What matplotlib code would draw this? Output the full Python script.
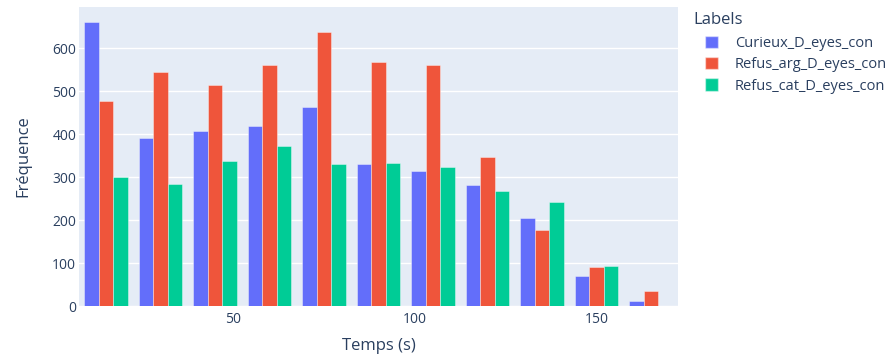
import numpy as np
import matplotlib
matplotlib.use("Agg")
import matplotlib.pyplot as plt
from matplotlib.patches import Patch

# Data
bin_start = 7.5
bin_width = 15
series_names = ["Curieux_D_eyes_con", "Refus_arg_D_eyes_con", "Refus_cat_D_eyes_con"]
curieux = [660, 390, 408, 418, 463, 331, 315, 281, 205, 70, 11]
refus_arg = [477, 544, 514, 562, 637, 569, 560, 348, 178, 90, 34]
refus_cat = [300, 285, 338, 372, 330, 332, 323, 268, 241, 92, 0]
colors = ["#636EFA", "#EF553B", "#00CC96"]
x_ticks = [50, 100, 150]
y_ticks = [0, 100, 200, 300, 400, 500, 600]

text_color = "#2a3f5f"
plt.rcParams["font.family"] = ["Open Sans", "DejaVu Sans"]

W, H = 895, 360
fig = plt.figure(figsize=(W / 100, H / 100), dpi=100)
ax = fig.add_axes([79 / W, 1 - 306 / H, (678 - 79) / W, (306 - 7) / H])
ax.set_facecolor("#E5ECF6")

all_series = [curieux, refus_arg, refus_cat]
n_bins = len(curieux)
edges = bin_start + bin_width * np.arange(n_bins)
bargap = 0.2
group_w = bin_width * (1 - bargap)
bar_w = group_w / len(all_series)
for i, (vals, col) in enumerate(zip(all_series, colors)):
    left = edges + bin_width * bargap / 2 + i * bar_w
    ax.bar(left, vals, width=bar_w, align="edge", color=col,
           edgecolor=(1, 1, 1, 0.45), linewidth=0.6, zorder=3)

ax.set_xlim(bin_start, bin_start + n_bins * bin_width)
ax.set_ylim(0, 696)
ax.set_xticks(x_ticks)
ax.set_yticks(y_ticks)
ax.grid(True, axis="y", color="white", linewidth=1, zorder=0)
ax.grid(False, axis="x")
ax.set_axisbelow(True)
for s in ax.spines.values():
    s.set_visible(False)
ax.tick_params(length=0, colors=text_color, labelsize=10)
ax.tick_params(axis="y", pad=2)
ax.tick_params(axis="x", pad=4)
ax.set_xlabel("Temps (s)", color=text_color, fontsize=12, labelpad=8)
ax.set_ylabel("Fréquence", color=text_color, fontsize=12, labelpad=15)

fig.text(693 / W, 1 - 20 / H, "Labels", color=text_color, fontsize=12,
         ha="left", va="center")
handles = [Patch(facecolor=c, edgecolor=(1, 1, 1, 0.45)) for c in colors]
leg = fig.legend(handles, series_names, loc="upper left",
                 bbox_to_anchor=(705 / W, 1 - 36 / H), frameon=False,
                 fontsize=10.5, handlelength=0.9, handleheight=0.9,
                 labelspacing=0.42, handletextpad=1.15, borderaxespad=0, borderpad=0)
for t in leg.get_texts():
    t.set_color(text_color)

fig.savefig("out.png", dpi=100)
